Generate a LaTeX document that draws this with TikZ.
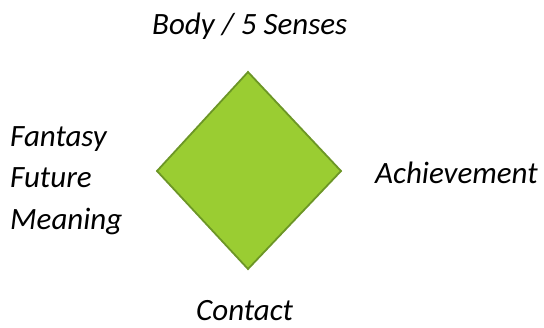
\documentclass[tikz,border=0pt]{standalone}
\usepackage{fontspec}
\setmainfont{Carlito}
\definecolor{leaf}{RGB}{154,205,50}
\definecolor{leafedge}{RGB}{108,150,38}
\begin{document}
\begin{tikzpicture}[x=1bp,y=-1bp,
  lbl/.style={anchor=base west,inner sep=0pt,font=\fontsize{31bp}{41bp}\selectfont\itshape}]
\useasboundingbox (0,0) rectangle (544,327);
% the green diamond
\coordinate (top) at (248,72);
\coordinate (right) at (341,171);
\coordinate (bottom) at (248,269);
\coordinate (left) at (157,171);
\filldraw[fill=leaf,draw=leafedge,line width=1.8bp,line join=miter]
  (top) -- (right) -- (bottom) -- (left) -- cycle;
% labels around it
\node[lbl] (body) at (152,34) {Body / 5 Senses};
\node[lbl] (ach) at (375,183) {Achievement};
\node[lbl] (contact) at (196,320) {Contact};
\node[lbl] (fantasy) at (10,146) {Fantasy};
\node[lbl] (future) at (10,187) {Future};
\node[lbl] (meaning) at (10,229) {Meaning};
\end{tikzpicture}
\end{document}
